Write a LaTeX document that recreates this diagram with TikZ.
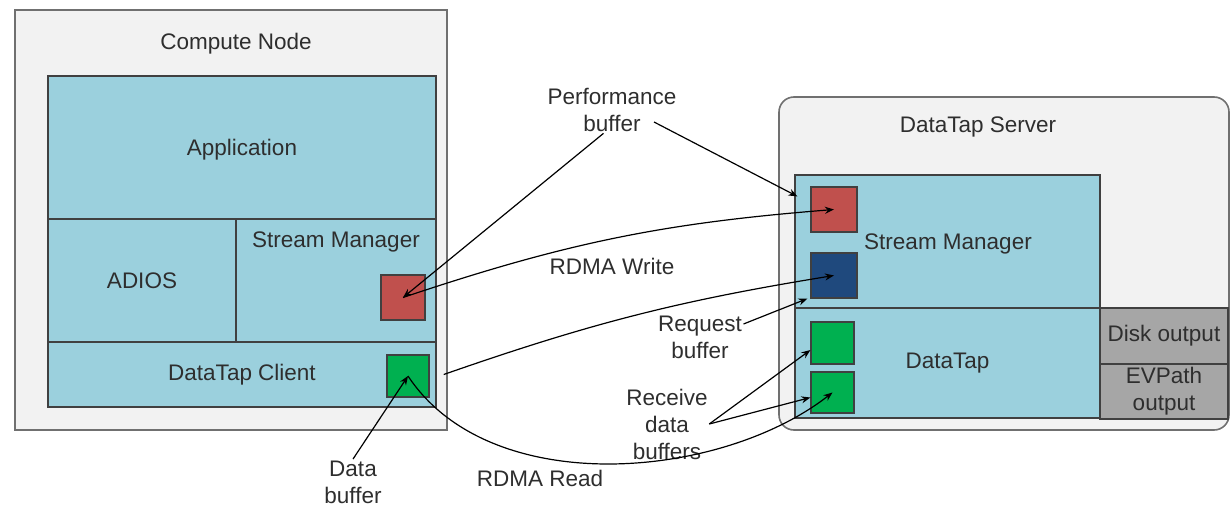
\documentclass[tikz,border=0pt]{standalone}
\usepackage{fontspec}
\setmainfont{Liberation Sans}
\usetikzlibrary{arrows.meta}

\definecolor{boxgray}{HTML}{F2F2F2}
\definecolor{edgegray}{HTML}{707070}
\definecolor{layerblue}{HTML}{9BD0DD}
\definecolor{bufred}{HTML}{C0504D}
\definecolor{bufblue}{HTML}{1F497D}
\definecolor{bufgreen}{HTML}{00B050}
\definecolor{outgray}{HTML}{A6A6A6}
\definecolor{textgray}{HTML}{2E2E2E}

\tikzset{
  host/.style={draw=edgegray, fill=boxgray, line width=1.6pt},
  layer/.style={draw=black!75, fill=layerblue, line width=1.4pt, inner sep=0pt},
  buf/.style={draw=black!75, line width=1.2pt, inner sep=0pt},
  lbl/.style={align=center, inner sep=1pt},
}

\begin{document}
\begin{tikzpicture}[x=1pt, y=-1pt, font=\fontsize{22.5}{27}\selectfont, text=textgray,
    >={Stealth[length=9pt,width=7pt]}, line width=1.2pt]
        \useasboundingbox (0,0) rectangle (1230,506);

        % Nodes 
        \node(cn) [host, minimum width=432pt, minimum height=420pt] at (231,220) {};
        \node(cnt) [lbl] at (236,44) {Compute Node};
        \node(app) [layer, minimum width=388pt, minimum height=143pt] at (242,147.5) {};
        \node(appt) [lbl] at (242,150) {Application};
        \node(adios) [layer, minimum width=188pt, minimum height=123pt] at (142,280.5) {ADIOS};
        \node(csm) [layer, minimum width=200pt, minimum height=123pt] at (336,280.5) {};
        \node(csmt) [lbl] at (336,242) {Stream Manager};
        \node(dtc) [layer, minimum width=388pt, minimum height=65pt] at (242,374.5) {DataTap Client};
        \node(cr) [buf, fill=bufred, minimum width=44pt, minimum height=45pt] at (403,297.5) {};
        \node(cg) [buf, fill=bufgreen, minimum width=42pt, minimum height=42pt] at (408,376) {};

        \node(srv) [host, rounded corners=15pt, minimum width=450pt, minimum height=333pt] at (1004,263.5) {};
        \node(srvt) [lbl] at (978,127) {DataTap Server};
        \node(ssm) [layer, minimum width=305pt, minimum height=133pt] at (947.5,241.5) {};
        \node(ssmt) [lbl] at (948,244) {Stream Manager};
        \node(sdt) [layer, minimum width=305pt, minimum height=110pt] at (947.5,363) {DataTap};
        \node(disk) [layer, fill=outgray, minimum width=128pt, minimum height=56pt] at (1164,336) {Disk output};
        \node(evp) [layer, fill=outgray, align=center, minimum width=128pt, minimum height=55pt] at (1164,391.5) {EVPath\\output};
        \node(sr) [buf, fill=bufred, minimum width=46pt, minimum height=45pt] at (834,209.5) {};
        \node(sb) [buf, fill=bufblue, minimum width=46pt, minimum height=45pt] at (834,275.5) {};
        \node(g1) [buf, fill=bufgreen, minimum width=43pt, minimum height=42pt] at (832.5,343) {};
        \node(g2) [buf, fill=bufgreen, minimum width=43pt, minimum height=41pt] at (832.5,392.5) {};

        \node(perf) [lbl] at (612,110) {Performance\\buffer};
        \node(write) [lbl] at (612,266) {RDMA Write};
        \node(req) [lbl] at (700,337) {Request\\buffer};
        \node(recv) [lbl] at (667,424) {Receive\\data\\buffers};
        \node(read) [lbl] at (540,478) {RDMA Read};
        \node(databuf) [lbl] at (353,482) {Data\\buffer};

        % Edges
        \draw[->] (perf.250) -- (cr.center);
        \draw[->] ([xshift=-24pt,yshift=-12pt]perf.east) -- ([xshift=-13pt,yshift=-10pt]sr.north west);
        \draw[->] (cr.center) to[bend left=7] (sr.center);
        \draw[->] ([xshift=7pt]dtc.east) to[bend left=5] (sb.center);
        \draw[->] ([yshift=13pt]req.east) -- ([xshift=-3pt]sb.south west);
        \draw[->] (recv.east) -- ([yshift=-7pt]g1.west);
        \draw[->] (recv.east) -- ([yshift=-5pt]g2.west);
        \draw[->] (cg.center) .. controls (490,500) and (720,480) .. (g2.center);
        \draw[->] (databuf.north) -- (cg.center);
    \end{tikzpicture}
\end{document}
